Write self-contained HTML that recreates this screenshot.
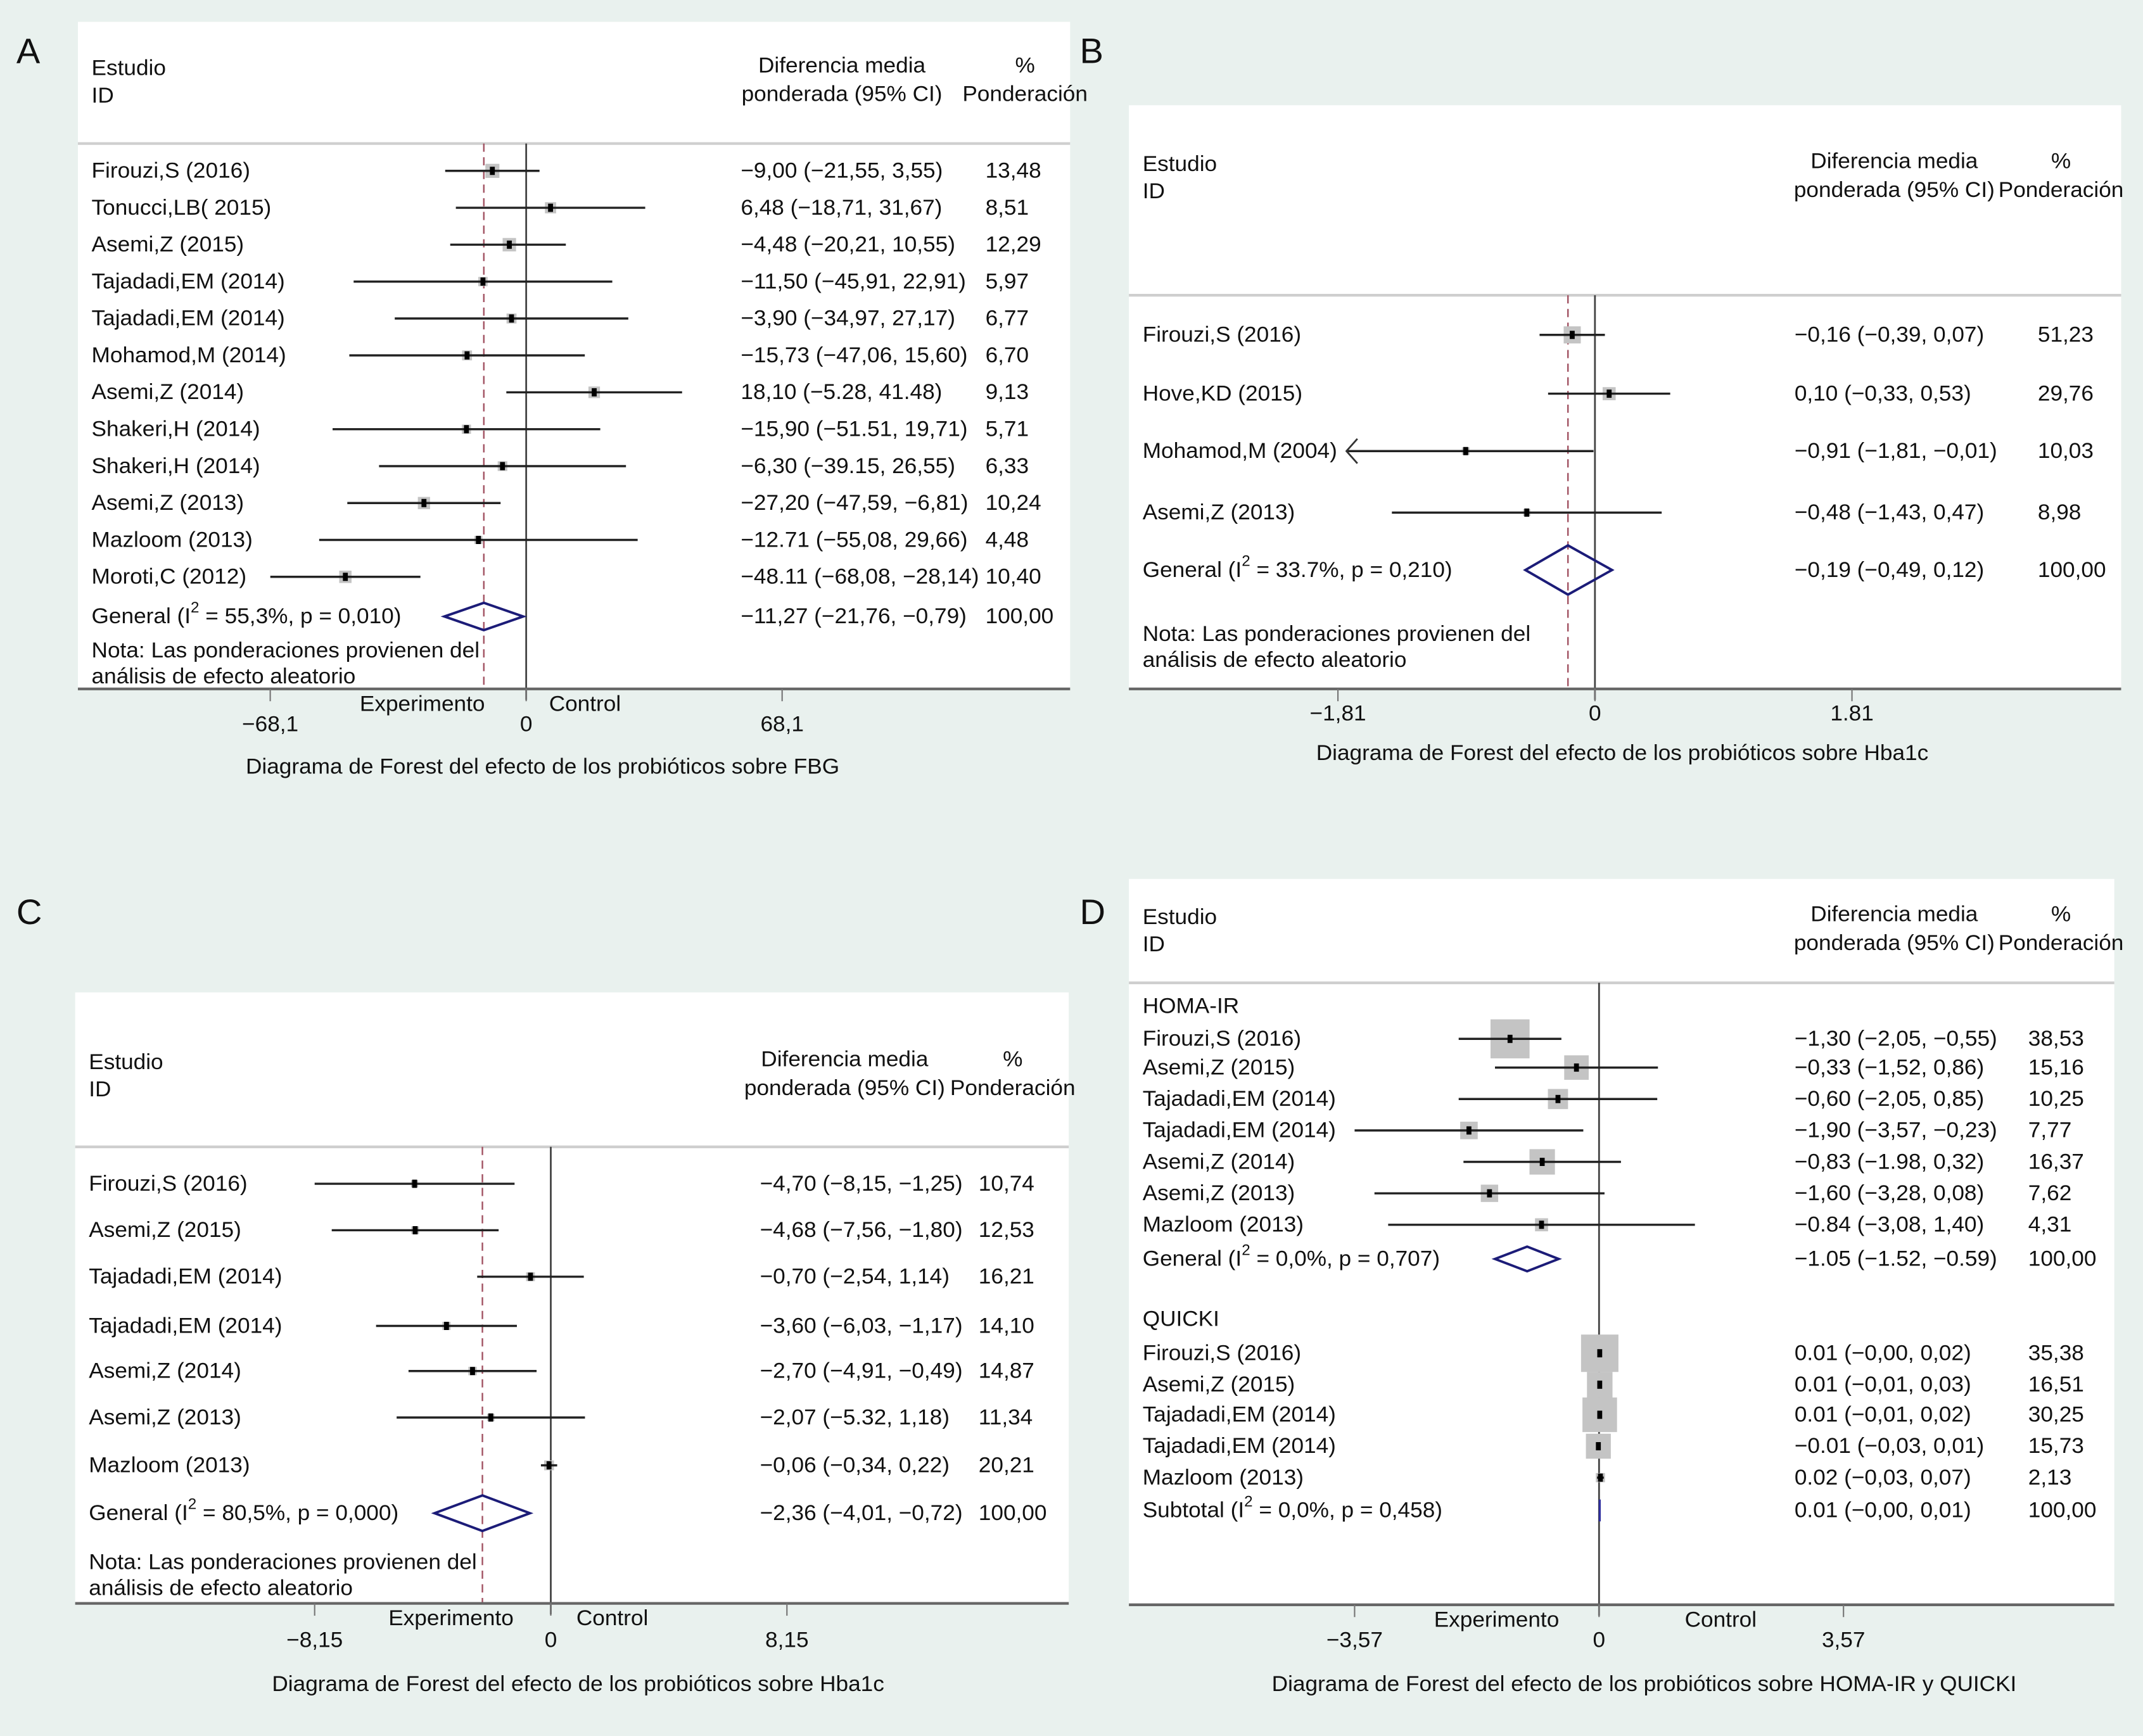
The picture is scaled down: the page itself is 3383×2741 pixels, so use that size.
<!DOCTYPE html>
<html><head><meta charset="utf-8">
<style>
html,body{margin:0;padding:0;background:#e9f1ee;}
svg{display:block;}
text{font-family:"Liberation Sans",sans-serif;fill:#111;}
</style></head>
<body>
<svg id="fig" width="3383" height="2741" viewBox="0 0 1568 1270" preserveAspectRatio="none" xmlns="http://www.w3.org/2000/svg">
<rect x="0" y="0" width="1568" height="1270" fill="#e9f1ee"/>
</svg>
<script>
// ---- Panel A data (FBG) ----
const aLabels = ["Firouzi,S (2016)","Tonucci,LB( 2015)","Asemi,Z (2015)","Tajadadi,EM (2014)","Tajadadi,EM (2014)","Mohamod,M (2014)","Asemi,Z (2014)","Shakeri,H (2014)","Shakeri,H (2014)","Asemi,Z (2013)","Mazloom (2013)","Moroti,C (2012)"];
const aEst = [-9.00,6.48,-4.48,-11.50,-3.90,-15.73,18.10,-15.90,-6.30,-27.20,-12.71,-48.11];
const aLo = [-21.55,-18.71,-20.21,-45.91,-34.97,-47.06,-5.28,-51.51,-39.15,-47.59,-55.08,-68.08];
const aHi = [3.55,31.67,10.55,22.91,27.17,15.60,41.48,19.71,26.55,-6.81,29.66,-28.14];
const aW = [13.48,8.51,12.29,5.97,6.77,6.70,9.13,5.71,6.33,10.24,4.48,10.40];
const aText = ["−9,00 (−21,55, 3,55)","6,48 (−18,71, 31,67)","−4,48 (−20,21, 10,55)","−11,50 (−45,91, 22,91)","−3,90 (−34,97, 27,17)","−15,73 (−47,06, 15,60)","18,10 (−5.28, 41.48)","−15,90 (−51.51, 19,71)","−6,30 (−39.15, 26,55)","−27,20 (−47,59, −6,81)","−12.71 (−55,08, 29,66)","−48.11 (−68,08, −28,14)"];
const aWText = ["13,48","8,51","12,29","5,97","6,77","6,70","9,13","5,71","6,33","10,24","4,48","10,40"];
const aOverall = [-11.27,-21.76,-0.79];
const aTicks = [-68.1,0,68.1];
const aTickLabels = ["−68,1","0","68,1"];

// ---- Panel B data (Hba1c) ----
const bLabels = ["Firouzi,S (2016)","Hove,KD (2015)","Mohamod,M (2004)","Asemi,Z (2013)"];
const bEst = [-0.16,0.10,-0.91,-0.48];
const bLo = [-0.39,-0.33,-1.81,-1.43];
const bHi = [0.07,0.53,-0.01,0.47];
const bW = [51.23,29.76,10.03,8.98];
const bText = ["−0,16 (−0,39, 0,07)","0,10 (−0,33, 0,53)","−0,91 (−1,81, −0,01)","−0,48 (−1,43, 0,47)"];
const bWText = ["51,23","29,76","10,03","8,98"];
const bOverall = [-0.19,-0.49,0.12];
const bTicks = [-1.81,0,1.81];
const bTickLabels = ["−1,81","0","1.81"];

// ---- Panel C data (Hba1c) ----
const cLabels = ["Firouzi,S (2016)","Asemi,Z (2015)","Tajadadi,EM (2014)","Tajadadi,EM (2014)","Asemi,Z (2014)","Asemi,Z (2013)","Mazloom (2013)"];
const cEst = [-4.70,-4.68,-0.70,-3.60,-2.70,-2.07,-0.06];
const cLo = [-8.15,-7.56,-2.54,-6.03,-4.91,-5.32,-0.34];
const cHi = [-1.25,-1.80,1.14,-1.17,-0.49,1.18,0.22];
const cW = [10.74,12.53,16.21,14.10,14.87,11.34,20.21];
const cText = ["−4,70 (−8,15, −1,25)","−4,68 (−7,56, −1,80)","−0,70 (−2,54, 1,14)","−3,60 (−6,03, −1,17)","−2,70 (−4,91, −0,49)","−2,07 (−5.32, 1,18)","−0,06 (−0,34, 0,22)"];
const cWText = ["10,74","12,53","16,21","14,10","14,87","11,34","20,21"];
const cOverall = [-2.36,-4.01,-0.72];
const cTicks = [-8.15,0,8.15];
const cTickLabels = ["−8,15","0","8,15"];

// ---- Panel D data (HOMA-IR, QUICKI) ----
const dLabels1 = ["Firouzi,S (2016)","Asemi,Z (2015)","Tajadadi,EM (2014)","Tajadadi,EM (2014)","Asemi,Z (2014)","Asemi,Z (2013)","Mazloom (2013)"];
const dEst1 = [-1.30,-0.33,-0.60,-1.90,-0.83,-1.60,-0.84];
const dLo1 = [-2.05,-1.52,-2.05,-3.57,-1.98,-3.28,-3.08];
const dHi1 = [-0.55,0.86,0.85,-0.23,0.32,0.08,1.40];
const dW1 = [38.53,15.16,10.25,7.77,16.37,7.62,4.31];
const dText1 = ["−1,30 (−2,05, −0,55)","−0,33 (−1,52, 0,86)","−0,60 (−2,05, 0,85)","−1,90 (−3,57, −0,23)","−0,83 (−1.98, 0,32)","−1,60 (−3,28, 0,08)","−0.84 (−3,08, 1,40)"];
const dWText1 = ["38,53","15,16","10,25","7,77","16,37","7,62","4,31"];
const dOverall1 = [-1.05,-1.52,-0.59];
const dLabels2 = ["Firouzi,S (2016)","Asemi,Z (2015)","Tajadadi,EM (2014)","Tajadadi,EM (2014)","Mazloom (2013)"];
const dEst2 = [0.01,0.01,0.01,-0.01,0.02];
const dLo2 = [-0.00,-0.01,-0.01,-0.03,-0.03];
const dHi2 = [0.02,0.03,0.02,0.01,0.07];
const dW2 = [35.38,16.51,30.25,15.73,2.13];
const dText2 = ["0.01 (−0,00, 0,02)","0.01 (−0,01, 0,03)","0.01 (−0,01, 0,02)","−0.01 (−0,03, 0,01)","0.02 (−0,03, 0,07)"];
const dWText2 = ["35,38","16,51","30,25","15,73","2,13"];
const dOverall2 = [0.01,-0.00,0.01];
const dTicks = [-3.57,0,3.57];
const dTickLabels = ["−3,57","0","3,57"];

const NS = "http://www.w3.org/2000/svg";
const svg = document.getElementById('fig');
const SX = 1.02;
function mk(tag, attrs, parent){
  const e = document.createElementNS(NS, tag);
  for (const k in attrs) e.setAttribute(k, attrs[k]);
  (parent||svg).appendChild(e);
  return e;
}
function txt(parent, x, y, s, anchor, name, size){
  const t = mk('text', {x:0, y:0, 'font-size': size||16, 'text-anchor': anchor||'start', transform:`translate(${x},${y}) scale(${SX},1)`}, parent);
  t.textContent = s;
  
  
  return t;
}
function txtI2(parent, x, y, pre, post, name){
  const t = mk('text', {x:0, y:0, 'font-size':16, transform:`translate(${x},${y}) scale(${SX},1)`}, parent);
  
  
  const a = mk('tspan', {}, t); a.textContent = pre + "(I";
  const b = mk('tspan', {dy:-8, 'font-size':11}, t); b.textContent = "2";
  const c = mk('tspan', {dy:8}, t); c.textContent = post;
  return t;
}

function panel(cfg){
  const g = mk('g', {});
  
  
  const L = mk('text', {x:cfg.letterX, y:cfg.letterY, 'font-size':26}, g);
  L.textContent = cfg.letter;
  
  
  const b = cfg.box;
  const r = mk('rect', {x:b.x, y:b.y, width:b.w, height:b.h, fill:'#fff'}, g);
  
  
  const sep = mk('line', {x1:b.x, x2:b.x+b.w, y1:cfg.sepY, y2:cfg.sepY, stroke:'#cfcfcf', 'stroke-width':2}, g);
  
  
  txt(g, b.x+10, cfg.headY, "Estudio", 'start', 'header-study');
  txt(g, b.x+10, cfg.headY+20, "ID", 'start', 'header-id');
  txt(g, cfg.hdrValX, cfg.headY-2, "Diferencia media", 'middle', 'header-effect');
  txt(g, cfg.hdrValX, cfg.headY+19, "ponderada (95% CI)", 'middle', 'header-effect-ci');
  txt(g, cfg.hdrWX, cfg.headY-2, "%", 'middle', 'header-percent');
  txt(g, cfg.hdrWX, cfg.headY+19, "Ponderación", 'middle', 'header-weight');
  const X = v => cfg.zeroX + v*cfg.scale;
  const bottom = b.y + b.h;
  const zl = mk('line', {x1:X(0), x2:X(0), y1:cfg.sepY, y2:bottom + 8, stroke:'#444', 'stroke-width':1.3}, g);
  
  
  if (cfg.dash !== undefined){
    const dl = mk('line', {x1:X(cfg.dash), x2:X(cfg.dash), y1:cfg.sepY, y2:bottom, stroke:'#a05060', 'stroke-width':1.1, 'stroke-dasharray':'6,4'}, g);
    
    
  }
  const ax = mk('line', {x1:b.x, x2:b.x+b.w, y1:bottom, y2:bottom, stroke:'#666', 'stroke-width':2}, g);
  
  
  cfg.ticks.forEach((t,i)=>{
    const tl = mk('line', {x1:X(t), x2:X(t), y1:bottom, y2:bottom+9, stroke:'#777', 'stroke-width':1}, g);
    
    
    txt(g, X(t), cfg.tickLabelY, cfg.tickLabels[i], 'middle', 'x-tick-label');
  });
  if (cfg.expX){
    txt(g, cfg.expX, bottom+16, "Experimento", 'middle', 'favours-experiment-label');
    txt(g, cfg.ctlX, bottom+16, "Control", 'middle', 'favours-control-label');
  }
  txt(g, cfg.captionX, cfg.captionY, cfg.caption, 'middle', 'x-axis-title');
  cfg.groups.forEach(gr=>{
    if (gr.title) txt(g, b.x+10, gr.titleY, gr.title, 'start', 'subgroup-title');
    gr.labels.forEach((lab,i)=>{
      const y = gr.rows[i];
      const row = mk('g', {}, g);
      
      
      txt(row, b.x+10, y+5, lab, 'start', 'study-label');
      const s = Math.sqrt(gr.w[i])*cfg.sqK;
      const sq = mk('rect', {x:X(gr.est[i])-s/2, y:y-s/2, width:s, height:s, fill:'#c4c4c4'}, row);
      
      
      let lo = gr.lo[i], arrow = false;
      if (cfg.clipLo !== undefined && lo <= cfg.clipLo){ lo = cfg.clipLo; arrow = true; }
      const ci = mk('line', {x1:X(lo), x2:X(gr.hi[i]), y1:y, y2:y, stroke:'#222', 'stroke-width':1.6}, row);
      
      
      if (arrow){
        const ar = mk('polyline', {points:`${X(lo)+8},${y-9} ${X(lo)},${y} ${X(lo)+8},${y+9}`, fill:'none', stroke:'#333', 'stroke-width':1.3}, row);
        
        
      }
      const pt = mk('rect', {x:X(gr.est[i])-1.8, y:y-3, width:3.6, height:6, fill:'#000'}, row);
      
      
      txt(row, cfg.valX, y+5, gr.text[i], 'start', 'effect-value');
      txt(row, cfg.wX, y+5, gr.wtext[i], 'start', 'weight-value');
    });
    const o = gr.overall, oy = gr.overallY;
    txtI2(g, b.x+10, oy+5, gr.overallLabel[0], gr.overallLabel[1], 'overall-label');
    if (gr.line){
      const ol = mk('line', {x1:X(o[0]), x2:X(o[0]), y1:oy-8, y2:oy+8, stroke:'#3030a0', 'stroke-width':1.5}, g);
      
      
    } else {
      const h = gr.dh;
      const d = mk('polygon', {points:`${X(o[1])},${oy} ${X(o[0])},${oy-h} ${X(o[2])},${oy} ${X(o[0])},${oy+h}`, fill:'none', stroke:'#1c1c78', 'stroke-width':1.8}, g);
      
      
    }
    txt(g, cfg.valX, oy+5, gr.overallText, 'start', 'overall-value');
    txt(g, cfg.wX, oy+5, "100,00", 'start', 'overall-weight');
  });
  if (cfg.notaY){
    txt(g, b.x+10, cfg.notaY, "Nota: Las ponderaciones provienen del", 'start', 'note-line-1');
    txt(g, b.x+10, cfg.notaY+19, "análisis de efecto aleatorio", 'start', 'note-line-2');
  }
}

panel({name:'panel-a-fbg', letter:'A', letterX:12, letterY:46,
  box:{x:57,y:16,w:726,h:488}, sepY:105, headY:55, hdrValX:616, hdrWX:750,
  zeroX:385, scale:2.75, dash:aOverall[0], ticks:aTicks, tickLabels:aTickLabels, tickLabelY:535,
  expX:309, ctlX:428, caption:"Diagrama de Forest del efecto de los probióticos sobre FBG", captionX:397, captionY:566,
  valX:542, wX:721, sqK:2.8, notaY:481,
  groups:[{labels:aLabels, est:aEst, lo:aLo, hi:aHi, w:aW, text:aText, wtext:aWText,
    rows:[125,152,179,206,233,260,287,314,341,368,395,422], overall:aOverall, overallY:451, dh:10,
    overallLabel:["General ", " = 55,3%, p = 0,010)"], overallText:"−11,27 (−21,76, −0,79)"}]
});
panel({name:'panel-b-hba1c', letter:'B', letterX:790, letterY:46,
  box:{x:826,y:77,w:726,h:427}, sepY:216, headY:125, hdrValX:1386, hdrWX:1508,
  zeroX:1167, scale:103.9, dash:bOverall[0], clipLo:-1.75, ticks:bTicks, tickLabels:bTickLabels, tickLabelY:527,
  caption:"Diagrama de Forest del efecto de los probióticos sobre Hba1c", captionX:1187, captionY:556,
  valX:1313, wX:1491, sqK:1.75, notaY:469,
  groups:[{labels:bLabels, est:bEst, lo:bLo, hi:bHi, w:bW, text:bText, wtext:bWText,
    rows:[245,288,330,375], overall:bOverall, overallY:417, dh:18,
    overallLabel:["General ", " = 33.7%, p = 0,210)"], overallText:"−0,19 (−0,49, 0,12)"}]
});
panel({name:'panel-c-hba1c', letter:'C', letterX:12, letterY:676,
  box:{x:55,y:726,w:727,h:447}, sepY:839, headY:782, hdrValX:618, hdrWX:741,
  zeroX:403, scale:21.2, dash:cOverall[0], ticks:cTicks, tickLabels:cTickLabels, tickLabelY:1205,
  expX:330, ctlX:448, caption:"Diagrama de Forest del efecto de los probióticos sobre Hba1c", captionX:423, captionY:1237,
  valX:556, wX:716, sqK:1.6, notaY:1148,
  groups:[{labels:cLabels, est:cEst, lo:cLo, hi:cHi, w:cW, text:cText, wtext:cWText,
    rows:[866,900,934,970,1003,1037,1072], overall:cOverall, overallY:1107, dh:13,
    overallLabel:["General ", " = 80,5%, p = 0,000)"], overallText:"−2,36 (−4,01, −0,72)"}]
});
panel({name:'panel-d-homa-quicki', letter:'D', letterX:790, letterY:676,
  box:{x:826,y:643,w:721,h:531}, sepY:719, headY:676, hdrValX:1386, hdrWX:1508,
  zeroX:1170, scale:50.1, ticks:dTicks, tickLabels:dTickLabels, tickLabelY:1205,
  expX:1095, ctlX:1259, caption:"Diagrama de Forest del efecto de los probióticos sobre HOMA-IR y QUICKI", captionX:1203, captionY:1237,
  valX:1313, wX:1484, sqK:4.6,
  groups:[
   {title:"HOMA-IR", titleY:741, labels:dLabels1, est:dEst1, lo:dLo1, hi:dHi1, w:dW1, text:dText1, wtext:dWText1,
    rows:[760,781,804,827,850,873,896], overall:dOverall1, overallY:921, dh:9,
    overallLabel:["General ", " = 0,0%, p = 0,707)"], overallText:"−1.05 (−1.52, −0.59)"},
   {title:"QUICKI", titleY:970, labels:dLabels2, est:dEst2, lo:dLo2, hi:dHi2, w:dW2, text:dText2, wtext:dWText2,
    rows:[990,1013,1035,1058,1081], overall:dOverall2, overallY:1105, line:true,
    overallLabel:["Subtotal ", " = 0,0%, p = 0,458)"], overallText:"0.01 (−0,00, 0,01)"}
  ]
});
</script>
</body></html>
